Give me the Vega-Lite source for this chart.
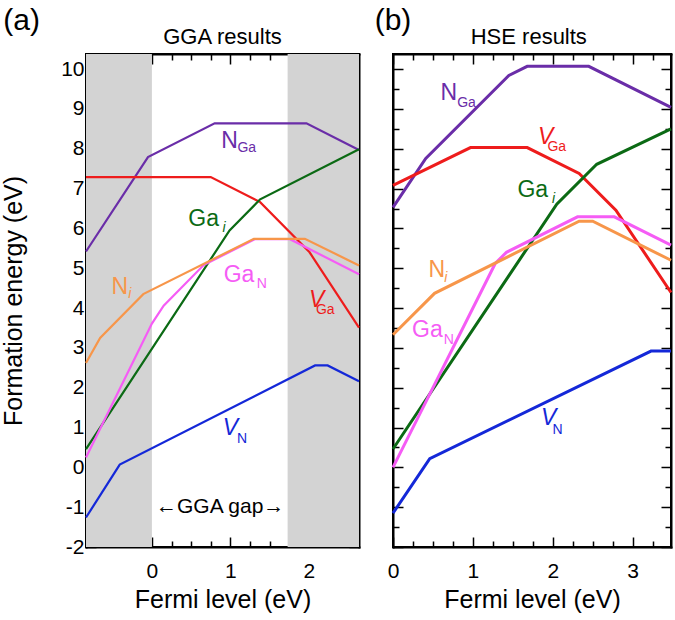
{
  "$schema": "https://vega.github.io/schema/vega-lite/v6.json",
  "padding": {"left": 0, "right": 2, "top": 5, "bottom": 5},
  "spacing": 8,
  "datasets": {
    "gga": [
      {"series": "N_Ga", "x": -0.84, "y": 5.42}, {"series": "N_Ga", "x": -0.05, "y": 7.79}, {"series": "N_Ga", "x": 0.80, "y": 8.64}, {"series": "N_Ga", "x": 1.97, "y": 8.64}, {"series": "N_Ga", "x": 2.64, "y": 7.97},
      {"series": "V_Ga", "x": -0.84, "y": 7.29}, {"series": "V_Ga", "x": 0.75, "y": 7.29}, {"series": "V_Ga", "x": 1.38, "y": 6.66}, {"series": "V_Ga", "x": 2.01, "y": 5.40}, {"series": "V_Ga", "x": 2.64, "y": 3.51},
      {"series": "Ga_i", "x": -0.84, "y": 0.46}, {"series": "Ga_i", "x": 0.99, "y": 5.95}, {"series": "Ga_i", "x": 1.38, "y": 6.73}, {"series": "Ga_i", "x": 2.64, "y": 7.99},
      {"series": "Ga_N", "x": -0.84, "y": 0.25}, {"series": "Ga_N", "x": 0.0, "y": 3.61}, {"series": "Ga_N", "x": 0.15, "y": 4.06}, {"series": "Ga_N", "x": 0.66, "y": 5.08}, {"series": "Ga_N", "x": 1.31, "y": 5.73}, {"series": "Ga_N", "x": 1.76, "y": 5.73}, {"series": "Ga_N", "x": 2.64, "y": 4.85},
      {"series": "N_i", "x": -0.84, "y": 2.62}, {"series": "N_i", "x": -0.66, "y": 3.25}, {"series": "N_i", "x": -0.11, "y": 4.35}, {"series": "N_i", "x": 1.30, "y": 5.74}, {"series": "N_i", "x": 1.95, "y": 5.74}, {"series": "N_i", "x": 2.64, "y": 5.07},
      {"series": "V_N", "x": -0.84, "y": -1.26}, {"series": "V_N", "x": -0.41, "y": 0.07}, {"series": "V_N", "x": 2.08, "y": 2.56}, {"series": "V_N", "x": 2.24, "y": 2.56}, {"series": "V_N", "x": 2.64, "y": 2.16}
    ],
    "hse": [
      {"series": "N_Ga", "x": 0, "y": 6.53}, {"series": "N_Ga", "x": 0.41, "y": 7.76}, {"series": "N_Ga", "x": 1.45, "y": 9.84}, {"series": "N_Ga", "x": 1.68, "y": 10.07}, {"series": "N_Ga", "x": 2.45, "y": 10.07}, {"series": "N_Ga", "x": 3.48, "y": 9.04},
      {"series": "V_Ga", "x": 0, "y": 7.08}, {"series": "V_Ga", "x": 0.97, "y": 8.03}, {"series": "V_Ga", "x": 1.68, "y": 8.03}, {"series": "V_Ga", "x": 2.33, "y": 7.38}, {"series": "V_Ga", "x": 2.79, "y": 6.46}, {"series": "V_Ga", "x": 3.48, "y": 4.39},
      {"series": "Ga_i", "x": 0, "y": 0.46}, {"series": "Ga_i", "x": 2.05, "y": 6.61}, {"series": "Ga_i", "x": 2.55, "y": 7.61}, {"series": "Ga_i", "x": 3.48, "y": 8.5},
      {"series": "Ga_N", "x": 0, "y": 0.0}, {"series": "Ga_N", "x": 1.28, "y": 5.12}, {"series": "Ga_N", "x": 1.42, "y": 5.40}, {"series": "Ga_N", "x": 2.31, "y": 6.29}, {"series": "Ga_N", "x": 2.77, "y": 6.29}, {"series": "Ga_N", "x": 3.48, "y": 5.58},
      {"series": "N_i", "x": 0, "y": 3.33}, {"series": "N_i", "x": 0.52, "y": 4.37}, {"series": "N_i", "x": 2.33, "y": 6.18}, {"series": "N_i", "x": 2.50, "y": 6.18}, {"series": "N_i", "x": 3.48, "y": 5.2},
      {"series": "V_N", "x": 0, "y": -1.15}, {"series": "V_N", "x": 0.46, "y": 0.22}, {"series": "V_N", "x": 3.23, "y": 2.92}, {"series": "V_N", "x": 3.48, "y": 2.92}
    ],
    "gga_gap": [{"x1": -0.84, "x2": 0}, {"x1": 1.73, "x2": 2.64}],
    "gga_main": [
      {"series": "N_Ga", "text": "N", "x": 0.99, "y": 8.19},
      {"series": "Ga_i", "text": "Ga", "x": 0.66, "y": 6.23},
      {"series": "Ga_N", "text": "Ga", "x": 1.11, "y": 4.82},
      {"series": "N_i", "text": "N", "x": -0.41, "y": 4.52}
    ],
    "gga_main_it": [
      {"series": "V_Ga", "text": "V", "x": 2.10, "y": 4.2},
      {"series": "V_N", "text": "V", "x": 1.0, "y": 1.0}
    ],
    "gga_sub": [
      {"series": "N_Ga", "text": "Ga", "x": 1.21, "y": 8.02},
      {"series": "Ga_N", "text": "N", "x": 1.40, "y": 4.6},
      {"series": "V_Ga", "text": "Ga", "x": 2.21, "y": 3.96},
      {"series": "V_N", "text": "N", "x": 1.15, "y": 0.7}
    ],
    "gga_sub_it": [
      {"series": "Ga_i", "text": "i", "x": 0.92, "y": 6.0},
      {"series": "N_i", "text": "i", "x": -0.28, "y": 4.35}
    ],
    "gga_note": [{"text": "←GGA gap→", "x": 0.87, "y": -1.0}],
    "gga_head": [{"text": "GGA results", "x": 0.9, "y": 10.8}],
    "gga_tag": [{"text": "(a)", "x": -1.66, "y": 11.2}],
    "hse_main": [
      {"series": "N_Ga", "text": "N", "x": 0.70, "y": 9.4},
      {"series": "Ga_i", "text": "Ga", "x": 1.75, "y": 6.96},
      {"series": "N_i", "text": "N", "x": 0.55, "y": 4.95},
      {"series": "Ga_N", "text": "Ga", "x": 0.43, "y": 3.44}
    ],
    "hse_main_it": [
      {"series": "V_Ga", "text": "V", "x": 1.91, "y": 8.29},
      {"series": "V_N", "text": "V", "x": 1.95, "y": 1.23}
    ],
    "hse_sub": [
      {"series": "N_Ga", "text": "Ga", "x": 0.92, "y": 9.15},
      {"series": "V_Ga", "text": "Ga", "x": 2.05, "y": 8.04},
      {"series": "Ga_N", "text": "N", "x": 0.70, "y": 3.19},
      {"series": "V_N", "text": "N", "x": 2.06, "y": 0.95}
    ],
    "hse_sub_it": [
      {"series": "Ga_i", "text": "i", "x": 2.01, "y": 6.73},
      {"series": "N_i", "text": "i", "x": 0.66, "y": 4.75}
    ],
    "hse_head": [{"text": "HSE results", "x": 1.70, "y": 10.8}],
    "hse_tag": [{"text": "(b)", "x": 0.0, "y": 11.2}]
  },
  "hconcat": [
    {
      "width": 273,
      "height": 493,
      "resolve": {"axis": {"x": "independent", "y": "independent"}},
      "layer": [
        {
          "data": {"name": "gga_gap"},
          "mark": {"type": "rect", "color": "#d3d3d3"},
          "encoding": {
            "x": {"field": "x1", "type": "quantitative", "scale": {"domain": [-0.84, 2.64], "nice": false, "zero": false}, "axis": null},
            "x2": {"field": "x2"}
          }
        },
        {
          "data": {"name": "gga"},
          "mark": {"type": "line", "strokeWidth": 2.2},
          "encoding": {
            "x": {"field": "x", "type": "quantitative", "scale": {"domain": [-0.84, 2.64], "nice": false, "zero": false},
              "axis": {"orient": "bottom", "values": [0, 1, 2], "title": "Fermi level (eV)", "tickSize": -10, "labelPadding": 23, "titlePadding": 6, "domain": true, "labelExpr": "replace(datum.label, '−', '-')"}},
            "y": {"field": "y", "type": "quantitative", "scale": {"domain": [-2, 10.38], "nice": false, "zero": false},
              "axis": {"orient": "left", "values": [-2, -1, 0, 1, 2, 3, 4, 5, 6, 7, 8, 9, 10], "title": "Formation energy (eV)", "tickSize": -10, "labelPadding": 12, "titlePadding": 34, "domain": true, "labelExpr": "replace(datum.label, '−', '-')"}},
            "color": {"field": "series", "type": "nominal", "legend": null,
              "scale": {"domain": ["N_Ga", "V_Ga", "Ga_i", "Ga_N", "N_i", "V_N"], "range": ["#6a2da8", "#ee1c1c", "#0b6a14", "#f55cf5", "#f7964a", "#1428d8"]}},
            "detail": {"field": "series"}
          }
        },
        {
          "data": {"name": "gga_main"},
          "mark": {"type": "text", "fontSize": 23, "font": "Liberation Sans", "align": "center", "baseline": "middle"},
          "encoding": {
            "x": {"field": "x", "type": "quantitative", "scale": {"domain": [-0.84, 2.64], "nice": false, "zero": false},
              "axis": {"orient": "top", "values": [0, 1, 2], "title": null, "labels": false, "tickSize": -10, "domain": true}},
            "y": {"field": "y", "type": "quantitative", "scale": {"domain": [-2, 10.38], "nice": false, "zero": false},
              "axis": {"orient": "right", "values": [-2, -1, 0, 1, 2, 3, 4, 5, 6, 7, 8, 9, 10], "title": null, "labels": false, "tickSize": -10, "domain": true}},
            "text": {"field": "text"},
            "color": {"field": "series", "type": "nominal", "legend": null}
          }
        },
        {
          "data": {"name": "gga_main_it"},
          "mark": {"type": "text", "fontSize": 23, "fontStyle": "italic", "font": "Liberation Sans", "align": "center", "baseline": "middle"},
          "encoding": {
            "x": {"field": "x", "type": "quantitative", "scale": {"domain": [-0.84, 2.64], "nice": false, "zero": false},
              "axis": {"orient": "bottom", "values": [-0.75, -0.5, -0.25, 0.25, 0.5, 0.75, 1.25, 1.5, 1.75, 2.25, 2.5], "title": null, "labels": false, "tickSize": -6, "domain": false}},
            "y": {"field": "y", "type": "quantitative", "scale": {"domain": [-2, 10.38], "nice": false, "zero": false},
              "axis": {"orient": "left", "values": [-1.5, -0.5, 0.5, 1.5, 2.5, 3.5, 4.5, 5.5, 6.5, 7.5, 8.5, 9.5], "title": null, "labels": false, "tickSize": -6, "domain": false}},
            "text": {"field": "text"},
            "color": {"field": "series", "type": "nominal", "legend": null}
          }
        },
        {
          "data": {"name": "gga_sub"},
          "mark": {"type": "text", "fontSize": 14, "font": "Liberation Sans", "align": "center", "baseline": "middle"},
          "encoding": {
            "x": {"field": "x", "type": "quantitative", "scale": {"domain": [-0.84, 2.64], "nice": false, "zero": false},
              "axis": {"orient": "top", "values": [-0.75, -0.5, -0.25, 0.25, 0.5, 0.75, 1.25, 1.5, 1.75, 2.25, 2.5], "title": null, "labels": false, "tickSize": -6, "domain": false}},
            "y": {"field": "y", "type": "quantitative", "scale": {"domain": [-2, 10.38], "nice": false, "zero": false},
              "axis": {"orient": "right", "values": [-1.5, -0.5, 0.5, 1.5, 2.5, 3.5, 4.5, 5.5, 6.5, 7.5, 8.5, 9.5], "title": null, "labels": false, "tickSize": -6, "domain": false}},
            "text": {"field": "text"},
            "color": {"field": "series", "type": "nominal", "legend": null}
          }
        },
        {
          "data": {"name": "gga_sub_it"},
          "mark": {"type": "text", "fontSize": 14, "fontStyle": "italic", "font": "Liberation Sans", "align": "center", "baseline": "middle"},
          "encoding": {
            "x": {"field": "x", "type": "quantitative", "scale": {"domain": [-0.84, 2.64], "nice": false, "zero": false}, "axis": null},
            "y": {"field": "y", "type": "quantitative", "scale": {"domain": [-2, 10.38], "nice": false, "zero": false}, "axis": null},
            "text": {"field": "text"},
            "color": {"field": "series", "type": "nominal", "legend": null}
          }
        },
        {
          "data": {"name": "gga_note"},
          "mark": {"type": "text", "fontSize": 21, "font": "Liberation Sans", "align": "center", "baseline": "middle", "color": "black"},
          "encoding": {
            "x": {"field": "x", "type": "quantitative", "scale": {"domain": [-0.84, 2.64], "nice": false, "zero": false}, "axis": null},
            "y": {"field": "y", "type": "quantitative", "scale": {"domain": [-2, 10.38], "nice": false, "zero": false}, "axis": null},
            "text": {"field": "text"}
          }
        },
        {
          "data": {"name": "gga_head"},
          "mark": {"type": "text", "fontSize": 22, "font": "Liberation Sans", "align": "center", "baseline": "middle", "color": "black"},
          "encoding": {
            "x": {"field": "x", "type": "quantitative", "scale": {"domain": [-0.84, 2.64], "nice": false, "zero": false}, "axis": null},
            "y": {"field": "y", "type": "quantitative", "scale": {"domain": [-2, 10.38], "nice": false, "zero": false}, "axis": null},
            "text": {"field": "text"}
          }
        },
        {
          "data": {"name": "gga_tag"},
          "mark": {"type": "text", "fontSize": 30, "font": "Liberation Sans", "align": "center", "baseline": "middle", "color": "black"},
          "encoding": {
            "x": {"field": "x", "type": "quantitative", "scale": {"domain": [-0.84, 2.64], "nice": false, "zero": false}, "axis": null},
            "y": {"field": "y", "type": "quantitative", "scale": {"domain": [-2, 10.38], "nice": false, "zero": false}, "axis": null},
            "text": {"field": "text"}
          }
        }
      ]
    },
    {
      "width": 278,
      "height": 493,
      "resolve": {"axis": {"x": "independent", "y": "independent"}},
      "layer": [
        {
          "data": {"name": "hse"},
          "mark": {"type": "line", "strokeWidth": 3},
          "encoding": {
            "x": {"field": "x", "type": "quantitative", "scale": {"domain": [0, 3.48], "nice": false, "zero": false},
              "axis": {"orient": "bottom", "values": [0, 1, 2, 3], "title": "Fermi level (eV)", "tickSize": -10, "labelPadding": 23, "titlePadding": 6, "domain": true}},
            "y": {"field": "y", "type": "quantitative", "scale": {"domain": [-2, 10.38], "nice": false, "zero": false},
              "axis": {"orient": "left", "values": [-2, -1, 0, 1, 2, 3, 4, 5, 6, 7, 8, 9, 10], "title": null, "labels": false, "tickSize": -10, "domain": true}},
            "color": {"field": "series", "type": "nominal", "legend": null,
              "scale": {"domain": ["N_Ga", "V_Ga", "Ga_i", "Ga_N", "N_i", "V_N"], "range": ["#6a2da8", "#ee1c1c", "#0b6a14", "#f55cf5", "#f7964a", "#1428d8"]}},
            "detail": {"field": "series"}
          }
        },
        {
          "data": {"name": "hse_main"},
          "mark": {"type": "text", "fontSize": 23, "font": "Liberation Sans", "align": "center", "baseline": "middle"},
          "encoding": {
            "x": {"field": "x", "type": "quantitative", "scale": {"domain": [0, 3.48], "nice": false, "zero": false},
              "axis": {"orient": "top", "values": [0, 1, 2, 3], "title": null, "labels": false, "tickSize": -10, "domain": true}},
            "y": {"field": "y", "type": "quantitative", "scale": {"domain": [-2, 10.38], "nice": false, "zero": false},
              "axis": {"orient": "right", "values": [-2, -1, 0, 1, 2, 3, 4, 5, 6, 7, 8, 9, 10], "title": null, "labels": false, "tickSize": -10, "domain": true}},
            "text": {"field": "text"},
            "color": {"field": "series", "type": "nominal", "legend": null}
          }
        },
        {
          "data": {"name": "hse_main_it"},
          "mark": {"type": "text", "fontSize": 23, "fontStyle": "italic", "font": "Liberation Sans", "align": "center", "baseline": "middle"},
          "encoding": {
            "x": {"field": "x", "type": "quantitative", "scale": {"domain": [0, 3.48], "nice": false, "zero": false},
              "axis": {"orient": "bottom", "values": [0.25, 0.5, 0.75, 1.25, 1.5, 1.75, 2.25, 2.5, 2.75, 3.25], "title": null, "labels": false, "tickSize": -6, "domain": false}},
            "y": {"field": "y", "type": "quantitative", "scale": {"domain": [-2, 10.38], "nice": false, "zero": false},
              "axis": {"orient": "left", "values": [-1.5, -0.5, 0.5, 1.5, 2.5, 3.5, 4.5, 5.5, 6.5, 7.5, 8.5, 9.5], "title": null, "labels": false, "tickSize": -6, "domain": false}},
            "text": {"field": "text"},
            "color": {"field": "series", "type": "nominal", "legend": null}
          }
        },
        {
          "data": {"name": "hse_sub"},
          "mark": {"type": "text", "fontSize": 14, "font": "Liberation Sans", "align": "center", "baseline": "middle"},
          "encoding": {
            "x": {"field": "x", "type": "quantitative", "scale": {"domain": [0, 3.48], "nice": false, "zero": false},
              "axis": {"orient": "top", "values": [0.25, 0.5, 0.75, 1.25, 1.5, 1.75, 2.25, 2.5, 2.75, 3.25], "title": null, "labels": false, "tickSize": -6, "domain": false}},
            "y": {"field": "y", "type": "quantitative", "scale": {"domain": [-2, 10.38], "nice": false, "zero": false},
              "axis": {"orient": "right", "values": [-1.5, -0.5, 0.5, 1.5, 2.5, 3.5, 4.5, 5.5, 6.5, 7.5, 8.5, 9.5], "title": null, "labels": false, "tickSize": -6, "domain": false}},
            "text": {"field": "text"},
            "color": {"field": "series", "type": "nominal", "legend": null}
          }
        },
        {
          "data": {"name": "hse_sub_it"},
          "mark": {"type": "text", "fontSize": 14, "fontStyle": "italic", "font": "Liberation Sans", "align": "center", "baseline": "middle"},
          "encoding": {
            "x": {"field": "x", "type": "quantitative", "scale": {"domain": [0, 3.48], "nice": false, "zero": false}, "axis": null},
            "y": {"field": "y", "type": "quantitative", "scale": {"domain": [-2, 10.38], "nice": false, "zero": false}, "axis": null},
            "text": {"field": "text"},
            "color": {"field": "series", "type": "nominal", "legend": null}
          }
        },
        {
          "data": {"name": "hse_head"},
          "mark": {"type": "text", "fontSize": 22, "font": "Liberation Sans", "align": "center", "baseline": "middle", "color": "black"},
          "encoding": {
            "x": {"field": "x", "type": "quantitative", "scale": {"domain": [0, 3.48], "nice": false, "zero": false}, "axis": null},
            "y": {"field": "y", "type": "quantitative", "scale": {"domain": [-2, 10.38], "nice": false, "zero": false}, "axis": null},
            "text": {"field": "text"}
          }
        },
        {
          "data": {"name": "hse_tag"},
          "mark": {"type": "text", "fontSize": 30, "font": "Liberation Sans", "align": "center", "baseline": "middle", "color": "black"},
          "encoding": {
            "x": {"field": "x", "type": "quantitative", "scale": {"domain": [0, 3.48], "nice": false, "zero": false}, "axis": null},
            "y": {"field": "y", "type": "quantitative", "scale": {"domain": [-2, 10.38], "nice": false, "zero": false}, "axis": null},
            "text": {"field": "text"}
          }
        }
      ]
    }
  ],
  "config": {
    "font": "Liberation Sans",
    "view": {"stroke": "black", "strokeWidth": 2},
    "axis": {
      "grid": false, "zindex": 1,
      "domainColor": "black", "domainWidth": 2, "domainCap": "square",
      "tickColor": "black", "tickWidth": 1.5,
      "labelFont": "Liberation Sans", "labelFontSize": 21, "labelColor": "black", "labelFlush": false,
      "titleFont": "Liberation Sans", "titleFontSize": 25, "titleFontWeight": "normal", "titleColor": "black",
      "minExtent": 0
    }
  }
}
